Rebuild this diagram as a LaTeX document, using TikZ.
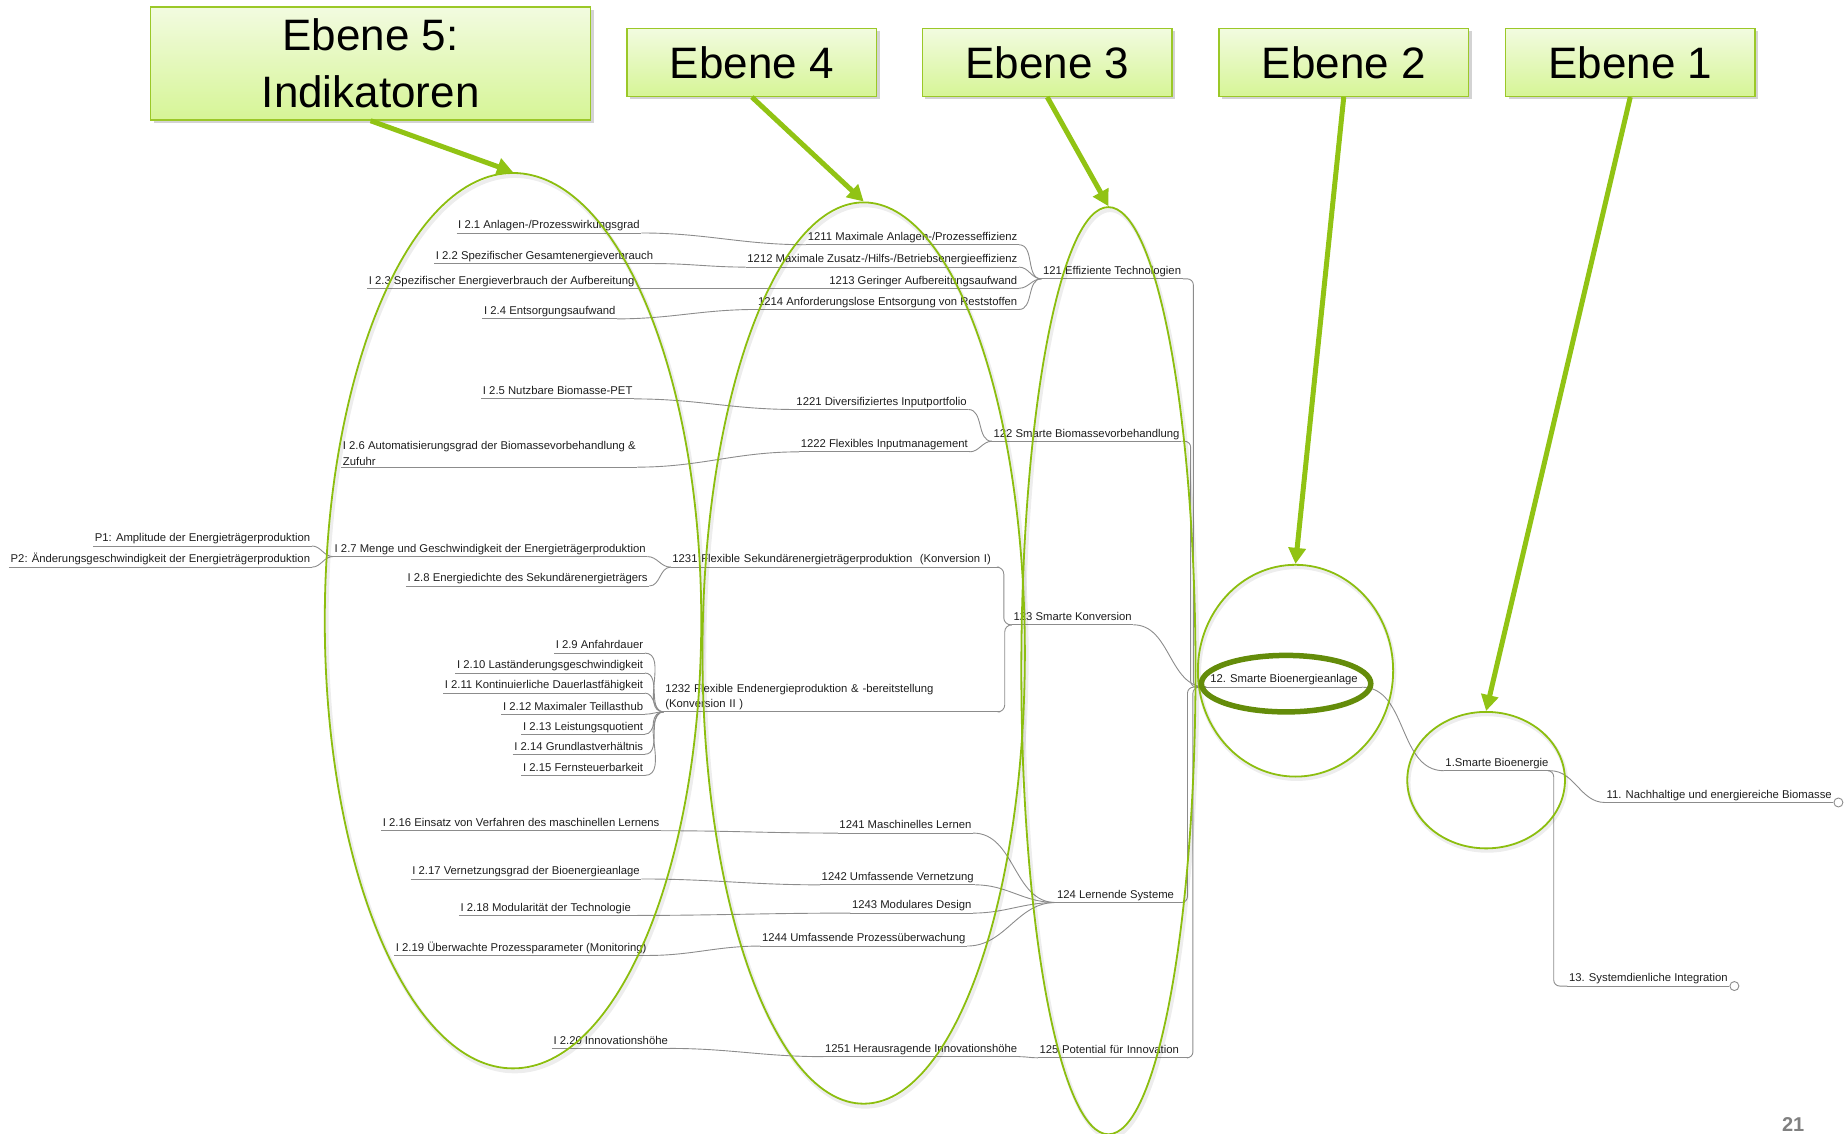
\documentclass[tikz,border=0pt]{standalone}
\usepackage{fontspec}
\setmainfont{Liberation Sans}
\usetikzlibrary{shapes.geometric,arrows.meta,shadows}
\definecolor{egreen}{RGB}{140,190,15}
\definecolor{agreen}{RGB}{145,195,20}
\definecolor{bgreen}{RGB}{155,200,40}
\definecolor{btop}{RGB}{242,251,224}
\definecolor{bbot}{RGB}{214,245,150}
\definecolor{dgreen}{RGB}{100,140,10}
\definecolor{linec}{RGB}{140,140,140}
\definecolor{txtc}{RGB}{30,30,30}
\begin{document}
\begin{tikzpicture}[x=1.17666pt,y=-1.17666pt,
  lbl/.style={inner xsep=1.5pt, inner ysep=1.6pt, text height=8.2pt, text depth=2.4pt,
    font=\fontsize{11.3}{15.3}\selectfont, text=txtc},
  lbltwo/.style={inner xsep=1.5pt, inner ysep=1.6pt, align=left,
    font=\fontsize{11.3}{15.3}\selectfont, text=txtc},
  ln/.style={draw=linec, line width=0.9pt},
  titlebox/.style={draw=bgreen, line width=1.4pt, top color=btop, bottom color=bbot,
    drop shadow={opacity=0.35, shadow xshift=3pt, shadow yshift=-3pt},
    inner sep=0pt, align=center, text=black, font=\fontsize{44}{57}\selectfont},
  garrow/.style={draw=agreen, line width=5pt, -{Triangle[length=16pt,width=17pt]}},
  ell/.style={ellipse, draw=egreen, line width=1.8pt, inner sep=0pt},
  ellshadow/.style={ellipse, draw=black, opacity=0.07, line width=4pt, inner sep=0pt},
]
\useasboundingbox (0,0) rectangle (1568,962.9);

% ---------- level 5 labels ----------
\node[lbl,anchor=south west] (i1) at (388,198) {I 2.1 Anlagen-/Prozesswirkungsgrad};
\node[lbl,anchor=south west] (i2) at (369,224) {I 2.2 Spezifischer Gesamtenergieverbrauch};
\node[lbl,anchor=south west] (i3) at (312,245) {I 2.3 Spezifischer Energieverbrauch der Aufbereitung};
\node[lbl,anchor=south west] (i4) at (410,271) {I 2.4 Entsorgungsaufwand};
\node[lbl,anchor=south west] (i5) at (409,339) {I 2.5 Nutzbare Biomasse-PET};
\node[lbltwo,anchor=south west] (i6) at (290,397) {I 2.6 Automatisierungsgrad der Biomassevorbehandlung \&\\Zufuhr};
\node[lbl,anchor=south west] (i7) at (283,473) {I 2.7 Menge und Geschwindigkeit der Energieträgerproduktion};
\node[lbl,anchor=south west] (i8) at (345,498) {I 2.8 Energiedichte des Sekundärenergieträgers};
\node[lbl,anchor=south east] (i9) at (548,555) {I 2.9 Anfahrdauer};
\node[lbl,anchor=south east] (i10) at (548,572) {I 2.10 Laständerungsgeschwindigkeit};
\node[lbl,anchor=south east] (i11) at (548,589) {I 2.11 Kontinuierliche Dauerlastfähigkeit};
\node[lbl,anchor=south east] (i12) at (548,607) {I 2.12 Maximaler Teillasthub};
\node[lbl,anchor=south east] (i13) at (548,624) {I 2.13 Leistungsquotient};
\node[lbl,anchor=south east] (i14) at (548,641) {I 2.14 Grundlastverhältnis};
\node[lbl,anchor=south east] (i15) at (548,659) {I 2.15 Fernsteuerbarkeit};
\node[lbl,anchor=south west] (i16) at (324,706) {I 2.16 Einsatz von Verfahren des maschinellen Lernens};
\node[lbl,anchor=south west] (i17) at (349,747) {I 2.17 Vernetzungsgrad der Bioenergieanlage};
\node[lbl,anchor=south west] (i18) at (390,778) {I 2.18 Modularität der Technologie};
\node[lbl,anchor=south west] (i19) at (335,812) {I 2.19 Überwachte Prozessparameter (Monitoring)};
\node[lbl,anchor=south west] (i20) at (469,891) {I 2.20 Innovationshöhe};
\node[lbl,anchor=south east] (p1) at (265,464) {P1: Amplitude der Energieträgerproduktion};
\node[lbl,anchor=south east] (p2) at (265,482) {P2: Änderungsgeschwindigkeit der Energieträgerproduktion};

% ---------- level 4 labels ----------
\node[lbl,anchor=south east] (a1211) at (866,208) {1211 Maximale Anlagen-/Prozesseffizienz};
\node[lbl,anchor=south east] (a1212) at (866,227) {1212 Maximale Zusatz-/Hilfs-/Betriebsenergieeffizienz};
\node[lbl,anchor=south east] (a1213) at (866,245) {1213 Geringer Aufbereitungsaufwand};
\node[lbl,anchor=south east] (a1214) at (866,263) {1214 Anforderungslose Entsorgung von Reststoffen};
\node[lbl,anchor=south east] (a1221) at (823,348) {1221 Diversifiziertes Inputportfolio};
\node[lbl,anchor=south east] (a1222) at (824,384) {1222 Flexibles Inputmanagement};
\node[lbl,anchor=south west,text width=325pt] (a1231) at (570,482) {1231 Flexible Sekundärenergieträgerproduktion\ \ (Konversion I)};
\node[lbltwo,anchor=south west,text width=333pt] (a1232) at (564,605) {1232 Flexible Endenergieproduktion \& -bereitstellung\\(Konversion II )};
\node[lbl,anchor=south east] (a1241) at (827,708) {1241 Maschinelles Lernen};
\node[lbl,anchor=south east] (a1242) at (829,752) {1242 Umfassende Vernetzung};
\node[lbl,anchor=south east] (a1243) at (827,776) {1243 Modulares Design};
\node[lbl,anchor=south east] (a1244) at (822,804) {1244 Umfassende Prozessüberwachung};
\node[lbl,anchor=south east] (a1251) at (866,898) {1251 Herausragende Innovationshöhe};

% ---------- level 3 labels ----------
\node[lbl,anchor=south west] (b121) at (885,237) {121 Effiziente Technologien};
\node[lbl,anchor=south west] (b122) at (843,375) {122 Smarte Biomassevorbehandlung};
\node[lbl,anchor=south west] (b123) at (860,531) {123 Smarte Konversion};
\node[lbl,anchor=south west] (b124) at (897,767) {124 Lernende Systeme};
\node[lbl,anchor=south west,text width=147pt] (b125) at (882,899) {125 Potential für Innovation};

% ---------- level 2, root, level 1 ----------
\node[lbl,anchor=south west,inner xsep=4pt] (c12) at (1025,584) {12. Smarte Bioenergieanlage};
\node[lbl,anchor=south west] (root) at (1227,655) {1.Smarte Bioenergie};
\node[lbl,anchor=south west] (c11) at (1364,682) {11. Nachhaltige und energiereiche Biomasse};
\node[lbl,anchor=south west] (c13) at (1332,838) {13. Systemdienliche Integration};

% ---------- underlines ----------
\foreach \n in {i1,i2,i3,i4,i5,i6,i7,i8,i9,i10,i11,i12,i13,i14,i15,i16,i17,i18,i19,i20,p1,p2,
  a1211,a1212,a1213,a1214,a1221,a1222,a1231,a1232,a1241,a1242,a1243,a1244,a1251,
  b121,b122,b123,b124,b125,c12,root,c11,c13}
  \draw[ln] (\n.south west) -- (\n.south east);

% ---------- connectors level 5 -> level 4 ----------
\draw[ln] (i1.south east) to[out=0,in=180] (a1211.south west);
\draw[ln] (i2.south east) to[out=0,in=180] (a1212.south west);
\draw[ln] (i3.south east) to[out=0,in=180] (a1213.south west);
\draw[ln] (i4.south east) to[out=0,in=180] (a1214.south west);
\draw[ln] (i5.south east) to[out=0,in=180] (a1221.south west);
\draw[ln] (i6.south east) to[out=0,in=180] (a1222.south west);
\draw[ln] (i7.south east) to[out=0,in=180] (a1231.south west);
\draw[ln] (i8.south east) to[out=0,in=180] (a1231.south west);
\foreach \n in {i9,i10,i11,i12,i13,i14,i15}
  \draw[ln] (\n.south east) to[out=0,in=180] (a1232.south west);
\draw[ln] (p1.south east) to[out=0,in=180] (i7.south west);
\draw[ln] (p2.south east) to[out=0,in=180] (i7.south west);
\draw[ln] (i16.south east) to[out=0,in=180] (a1241.south west);
\draw[ln] (i17.south east) to[out=0,in=180] (a1242.south west);
\draw[ln] (i18.south east) to[out=0,in=180] (a1243.south west);
\draw[ln] (i19.south east) to[out=0,in=180] (a1244.south west);
\draw[ln] (i20.south east) to[out=0,in=180] (a1251.south west);

% ---------- connectors level 4 -> level 3 ----------
\foreach \n in {a1211,a1212,a1213,a1214}
  \draw[ln] (\n.south east) to[out=0,in=180] (b121.south west);
\foreach \n in {a1221,a1222}
  \draw[ln] (\n.south east) to[out=0,in=180] (b122.south west);
\draw[ln,rounded corners=7pt] (a1231.south east) -- ++(4,0) |- (b123.south west);
\draw[ln,rounded corners=7pt] (a1232.south east) -- ++(4,0) |- (b123.south west);
\foreach \n in {a1241,a1242,a1243,a1244}
  \draw[ln] (\n.south east) to[out=0,in=180] (b124.south west);
\draw[ln] (a1251.south east) to[out=0,in=180] (b125.south west);

% ---------- connectors level 3 -> 12 ----------
\draw[ln,rounded corners=6pt] (b121.south east) -- ++(9,0) |- (c12.south west);
\draw[ln,rounded corners=6pt] (b122.south east) -- ++(8,0) |- (c12.south west);
\draw[ln] (b123.south east) to[out=0,in=180] (c12.south west);
\draw[ln,rounded corners=6pt] (b124.south east) -- ++(10,0) |- (c12.south west);
\draw[ln,rounded corners=6pt] (b125.south east) -- ++(4,0) |- (c12.south west);

% ---------- 12 -> root -> 11, 13 ----------
\draw[ln] (c12.south east) to[out=0,in=180] (root.south west);
\draw[ln] (root.south east) to[out=0,in=180] (c11.south west);
\draw[ln,rounded corners=6pt] (root.south east) -- ++(3,0) |- (c13.south west);
\node[circle,draw=linec,line width=0.9pt,fill=white,inner sep=0pt,minimum size=9pt,anchor=west] (o11) at (c11.south east) {};
\node[circle,draw=linec,line width=0.9pt,fill=white,inner sep=0pt,minimum size=9pt,anchor=west] (o13) at (c13.south east) {};

% ---------- ellipses ----------
\foreach \p/\w/\h in {{(437.5,530)}/376.5pt/895.4pt, {(735.5,557.5)}/322.4pt/901.3pt,
   {(943.5,572.5)}/174.2pt/927.2pt, {(1102,572)}/195.3pt/211.8pt, {(1264,665)}/157.7pt/136.5pt}
  \node[ellshadow,minimum width=\w,minimum height=\h] at \p {};
\node[ell,minimum width=376.5pt,minimum height=895.4pt] (e5) at (436,527.5) {};
\node[ell,minimum width=322.4pt,minimum height=901.3pt] (e4) at (734,555) {};
\node[ell,minimum width=174.2pt,minimum height=927.2pt] (e3) at (942,570) {};
\node[ell,minimum width=195.3pt,minimum height=211.8pt] (e2) at (1101,570) {};
\node[ell,minimum width=157.7pt,minimum height=136.5pt] (e1) at (1263,663) {};
\node[ellipse,draw=dgreen,line width=5.5pt,inner sep=0pt,minimum width=169.4pt,minimum height=56.5pt] (edark) at (1093,581) {};

% ---------- title boxes ----------
\node[titlebox,minimum width=440pt,minimum height=113pt] (t5) at (315,54) {Ebene 5:\\Indikatoren};
\node[titlebox,minimum width=249.5pt,minimum height=68pt] (t4) at (639,53) {Ebene 4};
\node[titlebox,minimum width=249.5pt,minimum height=68pt] (t3) at (890,53) {Ebene 3};
\node[titlebox,minimum width=249.5pt,minimum height=68pt] (t2) at (1142,53) {Ebene 2};
\node[titlebox,minimum width=249.5pt,minimum height=68pt] (t1) at (1385.5,53) {Ebene 1};

% ---------- green arrows ----------
\draw[garrow] (t5.south) -- (e5.north);
\draw[garrow] (t4.south) -- (e4.north);
\draw[garrow] (t3.south) -- (e3.north);
\draw[garrow] (t2.south) -- (e2.north);
\draw[garrow] (t1.south) -- (e1.north);

% ---------- page number ----------
\node[font=\bfseries\fontsize{20}{20}\selectfont,text=black!50,inner sep=0pt] (pg) at (1524,956) {21};
\end{tikzpicture}
\end{document}
